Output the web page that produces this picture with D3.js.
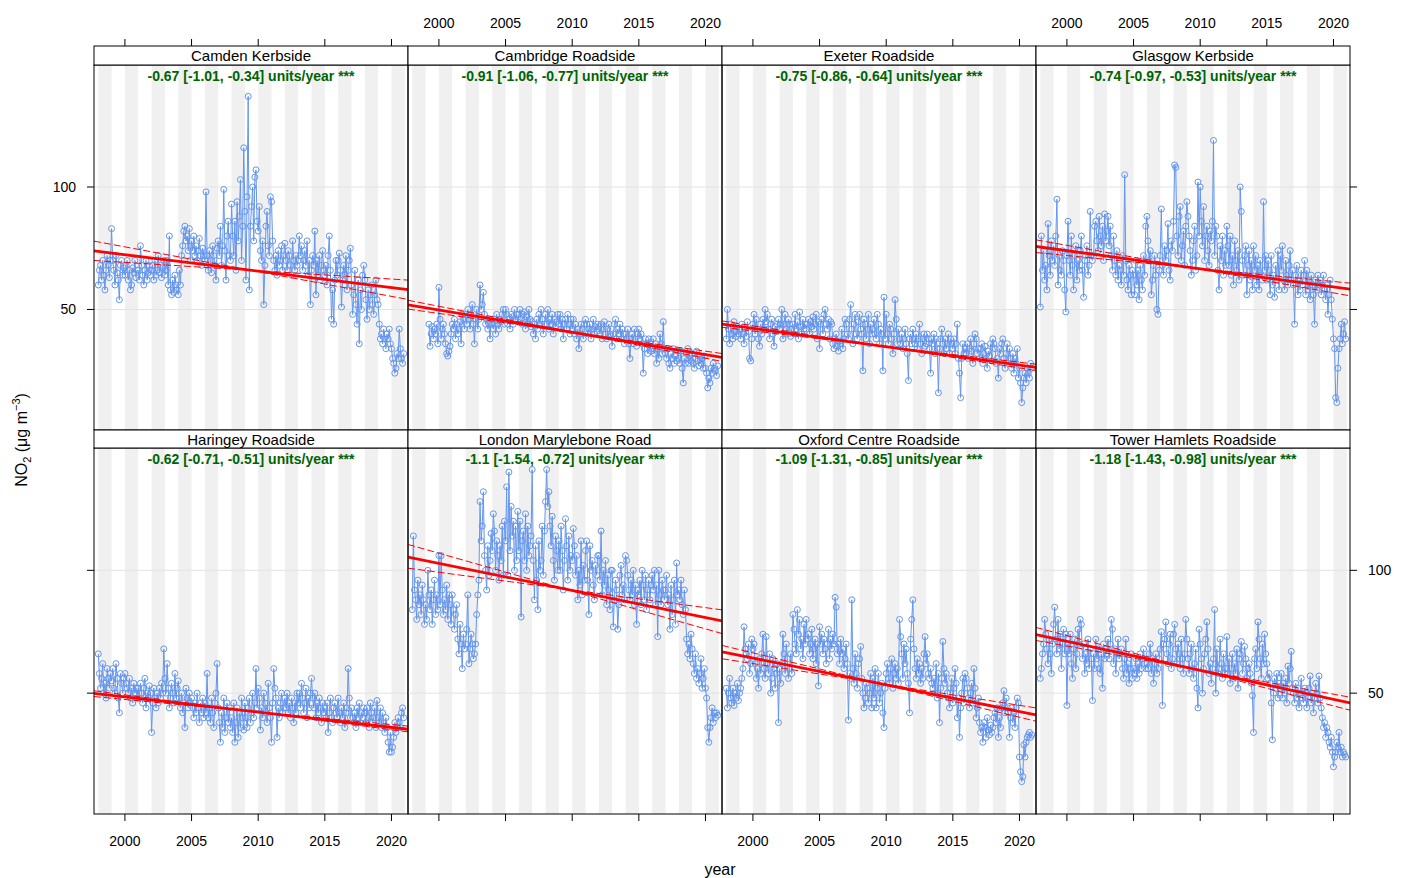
<!DOCTYPE html>
<html><head><meta charset="utf-8">
<script src="https://cdn.jsdelivr.net/npm/d3@7"></script>
<style>body{margin:0;background:#fff}svg{font-family:"Liberation Sans",Arial,sans-serif}</style>
</head><body><svg id="c" width="1407" height="878"></svg>
<script>
// ---------- data ----------
const sites = ["Camden Kerbside","Cambridge Roadside","Exeter Roadside","Glasgow Kerbside",
               "Haringey Roadside","London Marylebone Road","Oxford Centre Roadside","Tower Hamlets Roadside"];
const startYear  = [1998,1999,1998,1998,1998,1998,1998,1998];
const startMonth = [0,3,0,0,0,0,0,0];
const slopes   = [-0.67,-0.91,-0.75,-0.74,-0.62,-1.1,-1.09,-1.18];
const lowerCI  = [-1.01,-1.06,-0.86,-0.97,-0.71,-1.54,-1.31,-1.43];
const upperCI  = [-0.34,-0.77,-0.64,-0.53,-0.51,-0.72,-0.85,-0.98];
const trendCentreYear  = [2009.46,2010.1,2009.46,2009.46,2009.46,2009.46,2009.46,2009.46];
const trendCentreValue = [66.0,40.6,35.2,67.0,42.6,92.4,54.0,59.9];
const xTicks = [2000,2005,2010,2015,2020];
const yTicks = [50,100];

const camden = [
60,66,68,62,70,64,58,66,72,68,63,70,
83,70,66,60,72,65,62,54,68,70,64,67,
64,68,70,62,66,58,60,67,65,70,63,66,
66,62,76,68,64,60,66,70,62,65,68,64,
66,68,62,70,64,66,72,65,68,63,67,70,
64,66,70,60,80,58,56,62,57,64,60,58,
56,66,60,72,76,82,84,78,80,74,83,70,
78,74,80,72,76,70,74,79,72,68,75,72,
70,98,72,66,74,70,65,76,72,68,62,75,
78,72,84,68,76,99,74,62,80,86,72,70,
93,80,72,86,66,94,78,88,103,70,84,116,
90,62,96,137,58,84,92,100,78,104,107,86,
82,92,74,70,78,52,68,84,90,76,72,96,
94,78,70,66,72,64,74,68,70,76,66,72,
77,70,66,74,72,68,64,78,70,66,72,68,
70,80,72,76,66,70,74,68,78,64,70,52,
66,72,68,82,56,70,64,72,62,68,74,66,
64,68,60,72,80,66,46,58,44,62,70,64,
70,73,66,51,62,68,64,72,58,66,70,75,
60,48,56,66,52,44,62,36,58,50,64,68,
62,54,46,58,50,56,60,52,48,56,62,54,
52,44,38,40,36,42,38,34,40,38,42,36,
34,30,28,24,26,32,30,42,34,30,28,32];

const cambridge = [
44,35,40,43,38,42,40,44,36,
59,46,38,42,44,40,36,32,31,33,35,40,
44,42,46,38,44,40,42,45,36,48,46,42,
48,44,50,46,42,48,52,44,36,46,50,42,
46,60,50,52,57,48,44,46,42,44,38,46,
44,42,46,40,48,44,42,46,45,48,50,44,
50,48,44,46,42,48,47,44,50,46,48,45,
48,50,46,44,48,49,42,47,44,50,46,43,
45,40,44,38,46,42,48,44,50,46,40,44,
48,44,50,42,46,44,48,40,46,43,45,48,
44,48,42,46,38,44,46,42,48,44,40,46,
42,46,40,44,38,42,34,40,44,42,38,44,
46,44,40,42,44,38,42,46,40,43,41,44,
43,40,44,38,42,45,40,38,42,44,40,39,
35,40,44,46,38,42,40,44,38,42,40,36,
40,38,42,36,30,38,40,36,42,38,35,40,
42,38,40,36,24,34,38,36,32,38,36,33,
34,38,32,36,28,34,30,40,36,32,45,34,
32,30,34,28,26,32,30,34,28,31,29,33,
30,28,33,26,20,30,28,32,34,28,31,29,
32,28,26,30,33,29,27,31,28,30,26,31,
26,24,18,22,20,26,24,28,26,25,23,27];

const exeter = [
38,50,42,36,44,40,38,45,41,39,43,40,
42,38,44,40,36,42,39,45,41,30,29,38,
44,48,40,46,42,38,35,44,40,46,42,50,
45,48,42,38,44,46,40,35,43,41,44,46,
42,44,50,38,44,48,42,40,46,44,39,42,
44,40,48,42,45,38,49,43,40,46,42,44,
42,44,46,40,45,43,47,42,44,48,38,45,
34,44,46,40,48,50,44,42,46,38,45,44,
36,34,38,40,35,33,37,36,42,34,38,46,
44,40,38,46,52,42,36,44,48,40,38,45,
48,42,40,25,46,44,38,42,48,36,44,40,
42,46,40,38,48,44,36,42,40,25,55,38,
48,40,36,44,42,38,32,40,54,46,36,42,
38,36,40,34,38,42,36,32,21,38,40,36,
42,38,36,40,34,38,44,36,32,38,40,35,
36,40,38,34,24,38,36,40,32,38,34,16,
34,38,42,36,32,38,34,36,40,32,38,36,
34,38,32,36,44,30,24,14,30,36,32,34,
32,36,30,34,38,33,28,36,40,38,32,34,
30,34,36,28,32,35,30,26,33,31,36,29,
38,36,34,28,30,22,34,32,36,38,30,26,
32,36,28,34,30,26,32,24,30,28,34,22,
26,20,12,18,22,24,20,26,24,22,28,26];

const glasgow = [
51,80,66,74,62,68,58,85,72,64,78,70,
76,68,80,95,60,72,66,64,74,70,58,49,
72,86,70,64,80,68,58,72,76,62,70,66,
74,80,66,55,70,72,76,64,68,90,72,70,
72,84,86,78,74,88,80,76,84,70,89,78,
82,88,76,84,72,66,80,70,64,74,62,68,
66,60,72,64,105,70,62,58,68,64,56,66,
64,56,70,60,66,54,68,62,58,72,64,84,
88,78,70,74,56,62,68,72,64,50,48,66,
72,91,68,64,76,70,74,85,66,62,78,74,
86,109,108,80,72,88,92,70,76,82,68,84,
94,88,80,74,64,70,78,84,66,72,102,80,
100,86,76,92,70,80,84,74,68,82,78,86,
119,72,84,80,66,58,76,70,80,64,74,68,
84,76,68,80,64,72,60,78,70,66,74,62,
100,90,70,64,72,76,56,68,74,62,70,58,
76,66,72,60,68,58,70,64,62,94,66,72,
62,70,66,56,72,60,64,55,68,62,74,58,
72,66,76,62,58,70,64,60,68,74,62,66,
60,44,64,68,56,62,58,66,60,64,70,56,
66,58,62,54,64,60,56,44,62,58,64,60,
62,56,60,64,58,54,60,48,56,62,54,46,
38,34,14,12,26,34,38,44,36,40,45,38];

const haringey = [
66,58,52,56,62,50,54,48,60,56,52,58,
55,60,52,50,62,56,48,42,58,54,50,56,
58,54,52,50,56,48,52,46,54,50,52,48,
52,48,54,50,46,52,56,44,50,48,53,50,
34,46,52,48,44,50,46,52,48,54,50,68,
56,50,62,52,44,48,54,50,46,58,48,52,
55,48,44,50,42,46,36,52,48,44,50,46,
48,44,40,46,42,50,44,38,46,42,48,40,
46,42,58,40,44,38,48,42,36,46,50,62,
44,38,30,42,36,48,34,40,46,38,44,36,
40,34,46,30,38,44,32,42,36,48,40,35,
46,40,36,44,48,38,42,50,40,46,60,44,
52,48,35,44,40,50,46,42,38,54,44,40,
30,46,60,52,48,32,44,40,46,50,42,44,
48,44,50,42,46,40,48,44,38,46,42,50,
46,50,44,54,48,42,46,52,40,48,44,50,
56,48,44,50,40,46,42,48,44,38,46,42,
44,40,46,34,42,48,40,38,44,46,42,40,
48,42,38,44,40,46,36,42,44,60,48,40,
44,40,38,42,36,44,40,46,38,42,40,44,
42,38,44,40,36,46,42,38,40,44,36,47,
40,38,44,36,42,38,34,40,36,30,26,34,
26,28,32,38,34,36,40,38,36,42,44,40];

const marylebone = [
84,114,92,88,80,96,86,90,82,94,88,78,
86,80,100,90,84,92,78,88,96,82,90,84,
106,86,106,92,82,88,84,94,80,90,86,78,
90,84,76,82,86,72,66,78,70,60,74,68,
70,76,90,62,68,74,70,64,66,70,82,90,
96,128,112,118,132,106,100,92,110,98,104,115,
108,123,116,100,112,106,96,110,104,118,98,120,
112,134,98,140,108,126,114,120,100,118,104,124,
108,120,81,112,116,104,123,100,118,106,110,114,
141,104,88,110,96,84,112,100,104,118,98,116,
128,141,126,132,118,110,122,104,96,114,108,100,
112,100,118,108,92,104,121,110,96,114,100,106,
104,117,110,98,106,88,100,94,112,90,102,96,
108,112,96,82,110,100,104,94,88,102,98,106,
106,96,116,90,100,94,104,86,98,92,84,100,
100,77,88,96,92,76,86,98,102,90,94,88,
106,104,98,92,88,96,90,100,86,94,78,92,
90,96,86,100,94,88,98,84,92,96,88,94,
98,92,100,86,94,73,100,90,86,96,92,88,
92,98,86,90,76,94,82,88,96,78,103,90,
92,88,96,86,82,92,84,72,66,70,64,74,
68,62,58,66,56,60,54,58,64,52,56,60,
52,48,36,30,36,40,44,38,42,40,42,41];

const oxford = [
52,44,50,56,48,46,52,45,50,48,54,47,
50,52,56,60,77,68,66,64,70,58,62,72,
68,70,62,56,60,52,64,58,66,74,60,56,
73,62,58,66,50,56,64,60,52,58,62,38,
60,54,62,74,66,58,70,64,56,60,66,58,
82,76,70,66,84,74,80,68,72,64,78,70,
80,72,74,66,70,76,64,68,72,62,70,53,
77,70,74,66,72,68,62,70,76,64,72,68,
74,70,89,85,66,70,62,72,66,68,60,64,
70,62,39,58,56,88,60,54,66,58,52,62,
64,69,56,50,44,48,54,52,46,50,58,44,
56,48,60,44,52,58,46,50,54,42,36,52,
58,62,56,54,60,64,52,58,62,56,60,54,
80,73,66,56,70,62,68,58,54,42,72,80,
88,68,60,56,64,58,62,54,60,56,66,73,
62,66,58,56,60,54,52,56,50,62,48,58,
38,52,56,71,60,54,58,50,48,44,52,56,
46,52,60,54,40,48,32,44,50,56,46,58,
56,52,48,44,50,54,46,60,52,40,44,48,
38,34,36,30,38,36,32,40,35,33,37,34,
36,40,42,38,44,32,40,36,44,46,51,42,
48,44,42,32,40,44,38,42,36,44,48,46,
24,18,14,16,29,24,30,32,33,34,32,33];

const towerHamlets = [
56,60,66,70,80,74,68,62,72,66,58,70,
78,85,72,66,80,68,74,60,70,76,66,74,
45,70,66,74,62,56,68,72,60,66,76,70,
80,78,64,70,58,66,62,72,60,68,64,47,
66,60,72,64,68,60,58,66,52,70,64,68,
66,72,64,70,80,76,62,68,58,66,72,64,
66,68,60,56,64,72,58,62,54,60,66,56,
60,58,64,56,62,58,66,60,64,68,62,60,
62,60,66,70,58,64,54,62,66,58,60,64,
68,75,45,70,72,79,66,62,70,74,60,64,
74,78,68,62,70,66,60,72,64,58,66,80,
72,64,58,66,70,60,56,62,68,52,44,76,
70,64,50,60,66,72,79,68,58,62,54,60,
64,84,50,68,58,60,72,62,56,66,58,60,
73,58,64,54,60,66,56,62,58,68,52,64,
66,71,58,62,69,64,56,60,62,58,54,49,
34,64,68,60,79,72,64,56,70,62,74,66,
62,56,58,54,46,31,50,56,52,58,48,54,
52,58,48,54,50,56,46,61,54,60,67,52,
50,46,54,48,52,44,50,56,48,46,52,50,
44,48,52,57,46,50,42,48,54,50,46,57,
48,44,40,36,38,32,36,34,30,28,32,26,
20,24,26,30,28,34,26,28,24,26,25,24];

const series = [camden, cambridge, exeter, glasgow, haringey, marylebone, oxford, towerHamlets];

// ---------- layout ----------
const svg = d3.select("#c");
const colLeft = [94,408,722,1036], panelW = 314;
const rowStripTop = [46,430], rowTop = [65,448], rowBottom = [430,814];
const x = d3.scaleLinear().domain([1997.68, 2021.24]).range([0, panelW]);
const yDomain = [0.8, 149.8];
const ptColor = "#6495ED";

const defs = svg.append("defs");

sites.forEach((name, i) => {
  const col = i % 4, row = Math.floor(i / 4);
  const L = colLeft[col], T = rowTop[row], H = rowBottom[row] - rowTop[row];
  const y = d3.scaleLinear().domain(yDomain).range([H, 0]);
  defs.append("clipPath").attr("id", "clip" + i).append("rect").attr("width", panelW).attr("height", H);
  const g = svg.append("g").attr("transform", `translate(${L},${T})`);
  const inner = g.append("g").attr("clip-path", `url(#clip${i})`);

  // alternate-year shading
  const shadeYears = d3.range(1992, 2027, 2);
  inner.selectAll("rect.shade").data(shadeYears).join("rect")
    .attr("x", d => x(d)).attr("width", d => x(d + 1) - x(d))
    .attr("y", 0).attr("height", H).attr("fill", "#f0f0f0");

  // horizontal reference lines
  inner.selectAll("line.grid").data(yTicks).join("line")
    .attr("x1", 0).attr("x2", panelW).attr("y1", d => y(d)).attr("y2", d => y(d))
    .attr("stroke", "#e3e3e3").attr("stroke-width", 1);

  // data
  const vals = series[i];
  const pts = vals.map((v, k) => ({t: startYear[i] + (startMonth[i] + k) / 12, v}));
  inner.append("path").datum(pts)
    .attr("d", d3.line().x(d => x(d.t)).y(d => y(d.v)))
    .attr("fill", "none").attr("stroke", ptColor).attr("stroke-width", 1);
  inner.selectAll("circle").data(pts).join("circle")
    .attr("cx", d => x(d.t)).attr("cy", d => y(d.v)).attr("r", 3)
    .attr("fill", "none").attr("stroke", ptColor).attr("stroke-width", 1);

  // Theil-Sen trend + CI lines
  const cy = trendCentreYear[i], cv = trendCentreValue[i];
  const [x0, x1] = x.domain();
  const trendLine = (s) => [[x0, cv + s * (x0 - cy)], [x1, cv + s * (x1 - cy)]];
  const lineGen = d3.line().x(d => x(d[0])).y(d => y(d[1]));
  [lowerCI[i], upperCI[i]].forEach(s => {
    inner.append("path").attr("d", lineGen(trendLine(s)))
      .attr("fill", "none").attr("stroke", "red").attr("stroke-width", 1)
      .attr("stroke-dasharray", "7,3");
  });
  inner.append("path").attr("d", lineGen(trendLine(slopes[i])))
    .attr("fill", "none").attr("stroke", "red").attr("stroke-width", 2.8);

  // trend text
  g.append("text").attr("x", panelW / 2).attr("y", 15.5)
    .attr("text-anchor", "middle").attr("font-size", 14).attr("font-weight", "bold")
    .attr("fill", "#006400")
    .text(`${slopes[i]} [${lowerCI[i]}, ${upperCI[i]}] units/year ***`);

  // panel border
  g.append("rect").attr("width", panelW).attr("height", H)
    .attr("fill", "none").attr("stroke", "#000").attr("stroke-width", 1);

  // strip
  const ST = rowStripTop[row];
  svg.append("rect").attr("x", L).attr("y", ST).attr("width", panelW).attr("height", T - ST)
    .attr("fill", "#fff").attr("stroke", "#000").attr("stroke-width", 1);
  svg.append("text").attr("x", L + panelW / 2).attr("y", ST + (T - ST) / 2 + 5.5)
    .attr("text-anchor", "middle").attr("font-size", 15).attr("fill", "#000").text(name);

  // x ticks
  if (row === 0) {
    svg.append("g").selectAll("line").data(xTicks).join("line")
      .attr("x1", d => L + x(d)).attr("x2", d => L + x(d)).attr("y1", 46).attr("y2", 39)
      .attr("stroke", "#000");
    if (col === 1 || col === 3) {
      svg.append("g").selectAll("text").data(xTicks).join("text")
        .attr("x", d => L + x(d)).attr("y", 28).attr("text-anchor", "middle")
        .attr("font-size", 14).attr("fill", "#000").text(d => d);
    }
  } else {
    svg.append("g").selectAll("line").data(xTicks).join("line")
      .attr("x1", d => L + x(d)).attr("x2", d => L + x(d)).attr("y1", 814).attr("y2", 821)
      .attr("stroke", "#000");
    if (col === 0 || col === 2) {
      svg.append("g").selectAll("text").data(xTicks).join("text")
        .attr("x", d => L + x(d)).attr("y", 846).attr("text-anchor", "middle")
        .attr("font-size", 14).attr("fill", "#000").text(d => d);
    }
  }
  // y ticks
  if (col === 0) {
    svg.append("g").selectAll("line").data(yTicks).join("line")
      .attr("x1", 87).attr("x2", 94).attr("y1", d => T + y(d)).attr("y2", d => T + y(d))
      .attr("stroke", "#000");
    if (row === 0) {
      svg.append("g").selectAll("text").data(yTicks).join("text")
        .attr("x", 76).attr("y", d => T + y(d) + 5).attr("text-anchor", "end")
        .attr("font-size", 14).attr("fill", "#000").text(d => d);
    }
  }
  if (col === 3) {
    svg.append("g").selectAll("line").data(yTicks).join("line")
      .attr("x1", 1350).attr("x2", 1357).attr("y1", d => T + y(d)).attr("y2", d => T + y(d))
      .attr("stroke", "#000");
    if (row === 1) {
      svg.append("g").selectAll("text").data(yTicks).join("text")
        .attr("x", 1368).attr("y", d => T + y(d) + 5).attr("text-anchor", "start")
        .attr("font-size", 14).attr("fill", "#000").text(d => d);
    }
  }
});

// axis titles
svg.append("text").attr("x", 720).attr("y", 875).attr("text-anchor", "middle")
  .attr("font-size", 16).attr("fill", "#000").text("year");
const yl = svg.append("text").attr("transform", "translate(27,440) rotate(-90)")
  .attr("text-anchor", "middle").attr("font-size", 16).attr("fill", "#000");
yl.append("tspan").text("NO");
yl.append("tspan").attr("font-size", 11).attr("dy", 4).text("2");
yl.append("tspan").attr("dy", -4).text(" (\u03BCg m");
yl.append("tspan").attr("font-size", 11).attr("dy", -7).text("\u22123");
yl.append("tspan").attr("dy", 7).text(")");
</script></body></html>
